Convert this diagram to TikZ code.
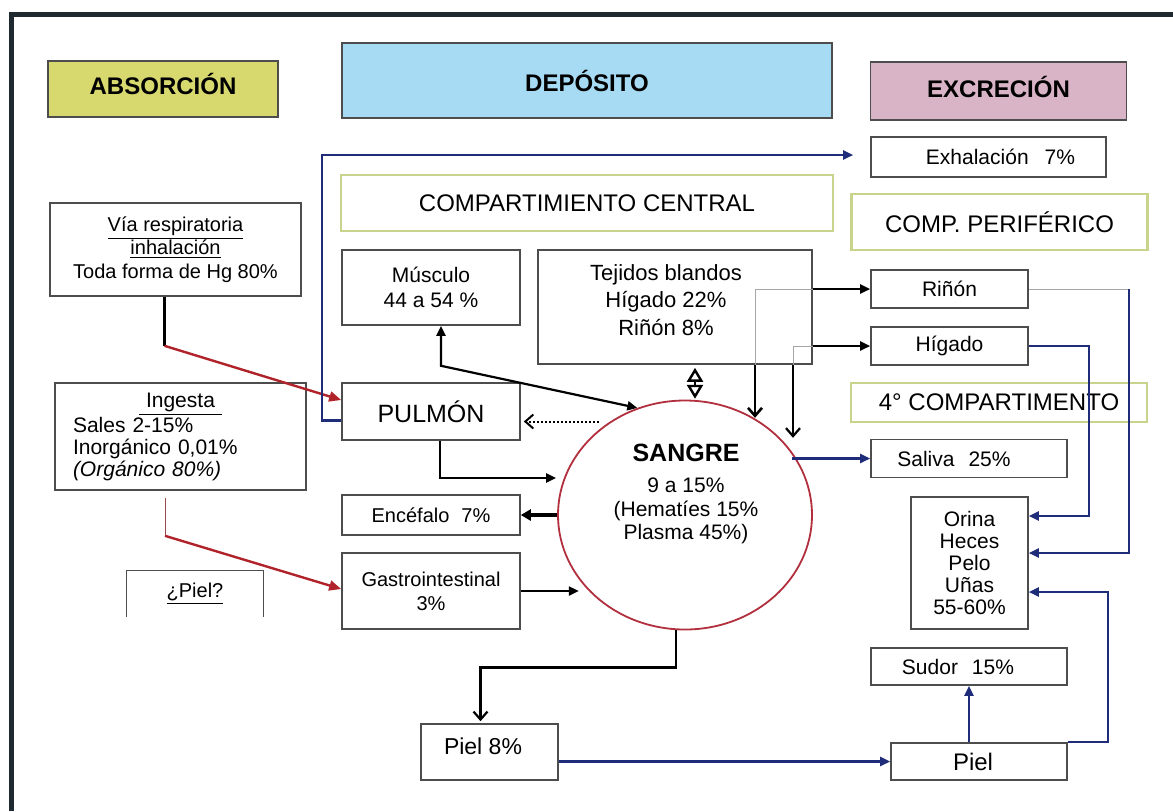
\documentclass[tikz,border=0pt]{standalone}
\usepackage{fontspec}
\setmainfont{Liberation Sans}
\usetikzlibrary{arrows.meta,positioning,calc,shapes.geometric}

\definecolor{absfill}{HTML}{D7D96E}
\definecolor{depfill}{HTML}{A6DBF3}
\definecolor{excfill}{HTML}{D9B4C6}
\definecolor{grnline}{HTML}{C8D38C}
\definecolor{boxgray}{HTML}{4D4D4D}
\definecolor{sangrecol}{HTML}{B22F3E}
\definecolor{navy}{HTML}{1F2C7A}
\definecolor{arrred}{HTML}{B0232A}
\definecolor{framecol}{HTML}{1E2A30}

\tikzset{
  box/.style={draw=boxgray, line width=0.8pt, fill=white, inner sep=0pt, align=center, font=\fontsize{10.5}{12.5}\selectfont},
  hdr/.style={draw=boxgray, line width=0.8pt, inner sep=0pt, font=\fontsize{12}{14}\selectfont\bfseries},
  grnbox/.style={draw=grnline, line width=1.4pt, fill=white, inner sep=0pt, font=\fontsize{12}{14}\selectfont},
  blk/.style={line width=1.1pt, -{Triangle[length=5pt,width=4.5pt]}},
  blkboth/.style={line width=1.1pt, {Triangle[length=5pt,width=4.5pt]}-{Triangle[length=5pt,width=4.5pt]}},
  vee/.style={line width=1.1pt, -{Straight Barb[length=4pt,width=7pt]}},
  blu/.style={navy, line width=1.1pt, -{Triangle[length=5pt,width=4.5pt]}},
  rojo/.style={arrred, line width=1.2pt, -{Triangle[length=6pt,width=5pt]}},
  thinln/.style={gray!70, line width=0.5pt},
}

\begin{document}
\begin{tikzpicture}[x=0.5pt, y=-0.5pt]
    \useasboundingbox (0,0) rectangle (1173,811);
    \fill[white] (0,0) rectangle (1173,811);

    % Frame
    \draw[framecol, line width=2.5pt] (11,811) -- (11,14) -- (1173,14);

    % Headers
    \node[hdr, fill=absfill, minimum width=115pt, minimum height=28pt, text depth=5pt] (absor) at (163,89) {ABSORCIÓN};
    \node[hdr, fill=depfill, minimum width=245pt, minimum height=37.5pt] (depos) at (587,80.5) {DEPÓSITO};
    \node[hdr, fill=excfill, minimum width=128pt, minimum height=29pt, text depth=4pt] (excre) at (998.5,91) {EXCRECIÓN};

    % Compartments
    \node[grnbox, minimum width=246pt, minimum height=28pt] (central) at (587,203) {COMPARTIMIENTO CENTRAL};
    \node[grnbox, minimum width=148pt, minimum height=28pt] (perif) at (999.5,222) {COMP. PERIFÉRICO};
    \node[grnbox, minimum width=148pt, minimum height=19.5pt] (cuarto) at (999,402.5) {4° COMPARTIMENTO};

    % Absorption
    \node[box, minimum width=125.5pt, minimum height=46.5pt, font=\fontsize{10}{11.75}\selectfont] (via) at (175.5,249.5) {\underline{Vía respiratoria}\\\underline{inhalación}\\Toda forma de Hg 80\%};
    \node[box, minimum width=125.5pt, minimum height=53.5pt, text width=107.5pt, align=left, font=\fontsize{10.5}{10.85}\selectfont] (ingesta) at (180.5,436.5) {\makebox[107.5pt][c]{\underline{\ Ingesta\ }}\\Sales 2-15\%\\Inorgánico 0,01\%\\\textit{(Orgánico 80\%)}};
    \node[inner sep=0pt, minimum width=68pt, minimum height=23pt, font=\fontsize{10}{12}\selectfont] (pielq) at (195,594) {\underline{¿Piel?}};
    \draw[boxgray, line width=0.8pt] (pielq.south west) |- (pielq.north east) -- (pielq.south east);

    % Deposit
    \node[box, minimum width=89pt, minimum height=37.5pt] (musculo) at (431,287.5) {Músculo\\44 a 54 \%};
    \node[box, minimum width=137pt, minimum height=57pt] (tejidos) at (675,307) {};
    \node[align=center, font=\fontsize{11}{13.75}\selectfont] (tejtxt) at (666,300) {Tejidos blandos\\Hígado 22\%\\Riñón 8\%};
    \node[box, minimum width=89pt, minimum height=28.5pt, font=\fontsize{12.5}{14}\selectfont] (pulmon) at (431,411.5) {PULMÓN};
    \node[box, minimum width=89pt, minimum height=20pt, font=\fontsize{10}{12}\selectfont] (encef) at (431,515) {Encéfalo\hspace{6pt}7\%};
    \node[box, minimum width=89pt, minimum height=38pt, font=\fontsize{10}{12}\selectfont] (gastro) at (431,591) {Gastrointestinal\\3\%};
    \node[ellipse, draw=sangrecol, line width=0.9pt, minimum width=127pt, minimum height=114.5pt, inner sep=0pt] (sangre) at (685,515) {};
    \node[align=center, font=\fontsize{10.5}{11.75}\selectfont] (sangretxt) at (686,494) {{\fontsize{12.5}{14}\selectfont\bfseries SANGRE}\\[4pt]9 a 15\%\\(Hematíes 15\%\\Plasma 45\%)};
    \node[box, minimum width=68.5pt, minimum height=28pt] (piel8) at (489.5,752) {};
    \node[font=\fontsize{11.5}{13}\selectfont] (piel8txt) at (483,746) {Piel 8\%};

    % Excretion
    \node[box, minimum width=117.5pt, minimum height=20pt] (exh) at (988.5,157) {\hspace*{12pt}Exhalación\hspace{8pt}7\%};
    \node[box, minimum width=78.5pt, minimum height=19pt] (rinon) at (949.5,289) {Riñón};
    \node[box, minimum width=78.5pt, minimum height=19pt] (higado) at (949.5,346) {Hígado};
    \node[box, minimum width=98pt, minimum height=19pt] (saliva) at (969,458.5) {Saliva\hspace{7pt}25\%\hspace*{15pt}};
    \node[box, minimum width=58.5pt, minimum height=66pt, font=\fontsize{10.5}{10.9}\selectfont] (orina) at (969.5,563) {Orina\\Heces\\Pelo\\Uñas\\55-60\%};
    \node[box, minimum width=98pt, minimum height=18.5pt] (sudor) at (969,666.5) {Sudor\hspace{7pt}15\%\hspace*{11pt}};
    \node[box, minimum width=88pt, minimum height=18.5pt, font=\fontsize{12}{14}\selectfont] (pielr) at (979,761.5) {Piel\hspace*{6pt}};

    % Intake arrows
    \coordinate (kvia) at ($(via.south)+(-11,49)$);
    \draw[line width=1.1pt] ($(via.south)+(-11,0)$) -- (kvia);
    \draw[rojo] (kvia) -- ($(pulmon.west)+(0,-11.5)$);
    \coordinate (king) at ($(ingesta.south)+(-15.5,45)$);
    \draw[arrred!60!gray, line width=0.5pt] ($(ingesta.south)+(-15.5,7)$) -- (king);
    \draw[rojo] (king) -- ($(gastro.west)+(0,-2)$);

    % Exhalation
    \draw[blu] ($(pulmon.west)+(0,9)$) -- ++(-19,0) |- ($(exh.west)+(-17,-2)$);

    % Blood exchanges
    \draw[blkboth] ($(musculo.south)+(10,0)$) -- ++(0,40) -- (sangre.114);
    \draw[line width=1.2pt, {Triangle[open,length=7pt,width=8pt]}-{Triangle[open,length=7pt,width=8pt]}] ($(tejidos.south)+(20,3)$) -- ++(0,31);
    \draw[densely dotted, line width=1pt, -{Straight Barb[length=4pt,width=7pt]}] ($(pulmon.east)+(78,10)$) -- ($(pulmon.east)+(3,10)$);
    \draw[blk] ($(pulmon.south)+(9,0)$) |- ($(sangre.west)+(-1,-37)$);
    \draw[line width=2.2pt, -{Triangle[length=5pt,width=5.5pt]}] (sangre.west) -- (encef.east);
    \draw[blk] (gastro.east) -- ++(58,0);
    \draw[vee] ($(sangre.south)+(-9,0)$) -- ++(0,37) -| ($(piel8.north)+(-9,-2)$);

    % Soft tissue outflows
    \coordinate (trin) at (755,289);
    \coordinate (thig) at (793,346);
    \draw[thinln] (tejidos.east |- rinon.west) -- (trin) -- (trin |- tejidos.south);
    \draw[thinln] (tejidos.east |- higado.west) -- (thig) -- (thig |- tejidos.south);
    \draw[blk] (tejidos.east |- rinon.west) -- (rinon.west);
    \draw[blk] (tejidos.east |- higado.west) -- (higado.west);
    \draw[vee, line width=1.3pt] (trin |- tejidos.south) -- ++(0,53);
    \draw[vee] (thig |- tejidos.south) -- ++(0,73);

    % Excretion routes
    \draw[blu] ($(saliva.west)+(-78,0)$) -- (saliva.west);
    \coordinate (krin) at ($(rinon.east)+(100,0)$);
    \draw[thinln] (rinon.east) -- (krin);
    \draw[blu] (krin) |- ($(orina.east)+(0,-10)$);
    \draw[blu] (higado.east) -- ++(60,0) |- ($(orina.east)+(0,-47)$);
    \draw[blu] (piel8.east |- pielr.west) -- (pielr.west);
    \draw[blu] (pielr.north -| sudor.south) -- (sudor.south);
    \draw[blu] (pielr.north east) -- ++(40,0) |- ($(orina.east)+(0,29)$);

\end{tikzpicture}
\end{document}
